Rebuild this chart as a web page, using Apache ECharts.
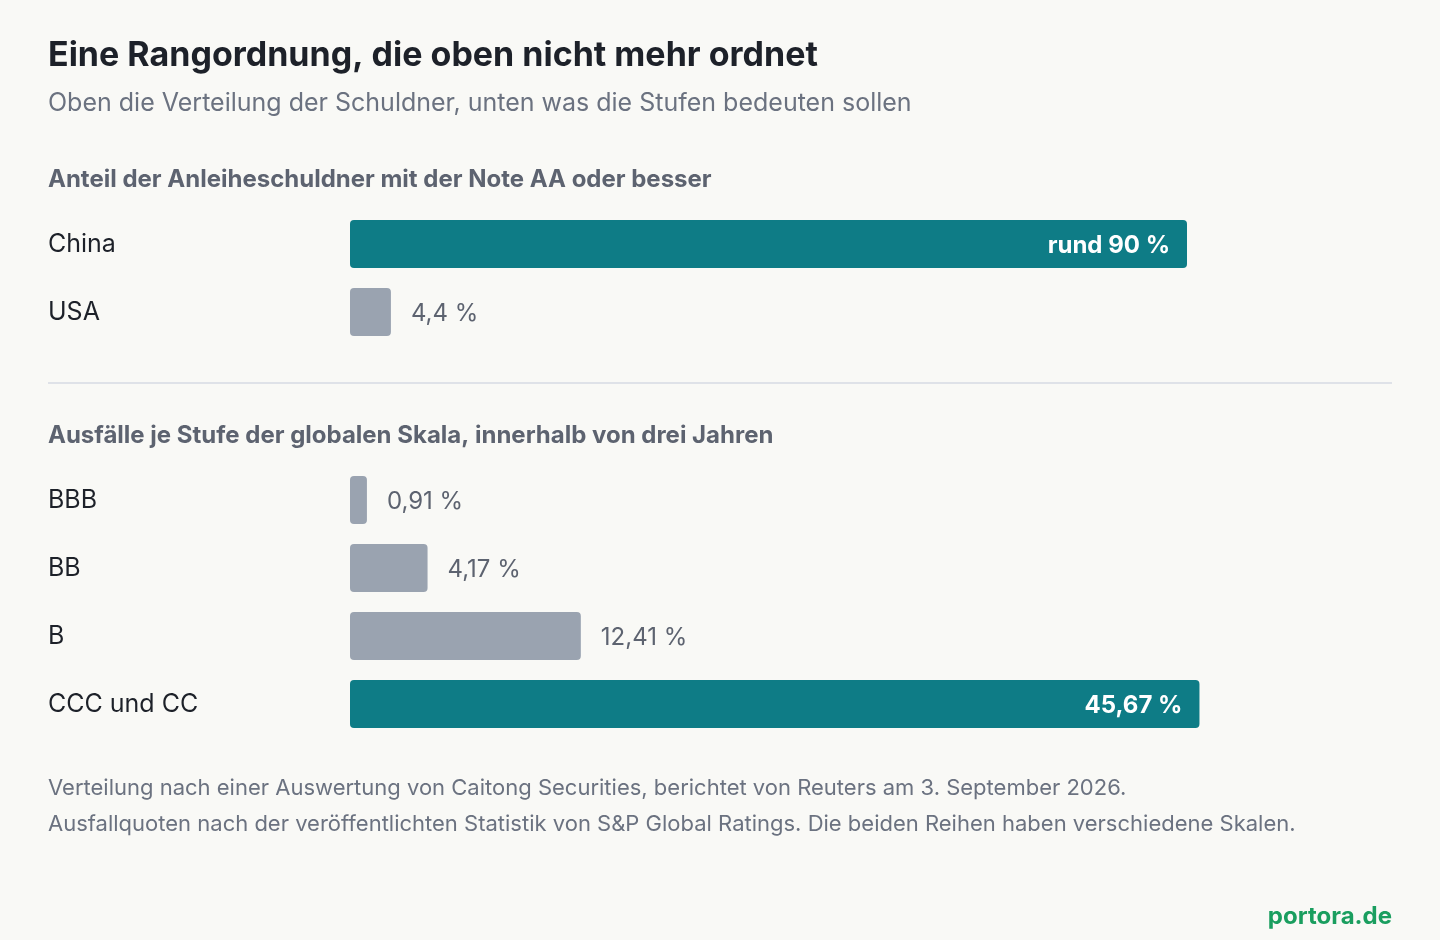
<!DOCTYPE html>
<html><head><meta charset="utf-8">
<script src="https://cdn.jsdelivr.net/npm/echarts@6/dist/echarts.min.js"></script>
<style>html,body{margin:0;background:#f9f9f6}#c{width:1440px;height:940px}</style>
</head><body><div id="c"></div>
<script>
// top panel: share of issuers rated AA or better
var shareCats = ["China", "USA"];
var shareVals = [90, 4.4];
var shareLabels = ["rund 90 %", "4,4 %"];
// bottom panel: three-year default rate per rating grade
var gradeCats = ["BBB", "BB", "B", "CCC und CC"];
var gradeVals = [0.91, 4.17, 12.41, 45.67];
var gradeLabels = ["0,91 %", "4,17 %", "12,41 %", "45,67 %"];

var TEAL = "#0e7c86", GREY = "#9aa3b0";
var F = "Inter, 'Noto Sans', sans-serif";

function barData(vals, labels, hiIdx) {
	return vals.map(function(v, i) {
		var hi = i === hiIdx;
		return {
			value: v,
			itemStyle: { color: hi ? TEAL : GREY, borderRadius: 4 },
			label: hi
				? { show: true, position: "insideRight", distance: 17, offset: [0, 2], formatter: labels[i], color: "#fff", fontWeight: "bold", fontSize: 24, fontFamily: F }
				: { show: true, position: "right", distance: 20, offset: [0, 2], formatter: labels[i], color: "#5d6370", fontSize: 24, fontFamily: F }
		};
	});
}

function yAx(idx, cats) {
	return {
		type: "category", gridIndex: idx, data: cats, inverse: true,
		axisLine: { show: false }, axisTick: { show: false },
		axisLabel: { align: "left", margin: 302, padding: [4, 0, 0, 0], color: "#1d2129", fontSize: 25, fontFamily: F }
	};
}
function xAx(idx, max) {
	return { type: "value", gridIndex: idx, min: 0, max: max, show: false };
}

var chart = echarts.init(document.getElementById("c"));
chart.setOption({
	backgroundColor: "#f9f9f6",
	animation: false,
	grid: [
		{ left: 350, width: 930, top: 210, height: 136 },
		{ left: 350, width: 930, top: 466, height: 272 }
	],
	xAxis: [xAx(0, 100), xAx(1, 50)],
	yAxis: [yAx(0, shareCats), yAx(1, gradeCats)],
	series: [
		{ type: "bar", xAxisIndex: 0, yAxisIndex: 0, barWidth: 48, data: barData(shareVals, shareLabels, 0) },
		{ type: "bar", xAxisIndex: 1, yAxisIndex: 1, barWidth: 48, data: barData(gradeVals, gradeLabels, 3) }
	],
	graphic: [
		{ type: "text", left: 48, top: 39, style: { text: "Eine Rangordnung, die oben nicht mehr ordnet", font: "bold 34px " + F, fill: "#1d2129" } },
		{ type: "text", left: 48, top: 91, style: { text: "Oben die Verteilung der Schuldner, unten was die Stufen bedeuten sollen", font: "25px " + F, fill: "#6b7280" } },
		{ type: "text", left: 48, top: 168, style: { text: "Anteil der Anleiheschuldner mit der Note AA oder besser", font: "bold 24px " + F, fill: "#5d6370" } },
		{ type: "line", shape: { x1: 48, y1: 383, x2: 1392, y2: 383 }, style: { stroke: "#dfe2e8", lineWidth: 2 } },
		{ type: "text", left: 48, top: 424, style: { text: "Ausfälle je Stufe der globalen Skala, innerhalb von drei Jahren", font: "bold 24px " + F, fill: "#5d6370" } },
		{ type: "text", left: 48, top: 777, style: { text: "Verteilung nach einer Auswertung von Caitong Securities, berichtet von Reuters am 3. September 2026.", font: "22px " + F, fill: "#6b7280" } },
		{ type: "text", left: 48, top: 813, style: { text: "Ausfallquoten nach der veröffentlichten Statistik von S&P Global Ratings. Die beiden Reihen haben verschiedene Skalen.", font: "22px " + F, fill: "#6b7280" } },
		{ type: "text", right: 48, top: 905, style: { text: "portora.de", font: "bold 24px " + F, fill: "#1a9e5f" } }
	]
});
</script></body></html>
